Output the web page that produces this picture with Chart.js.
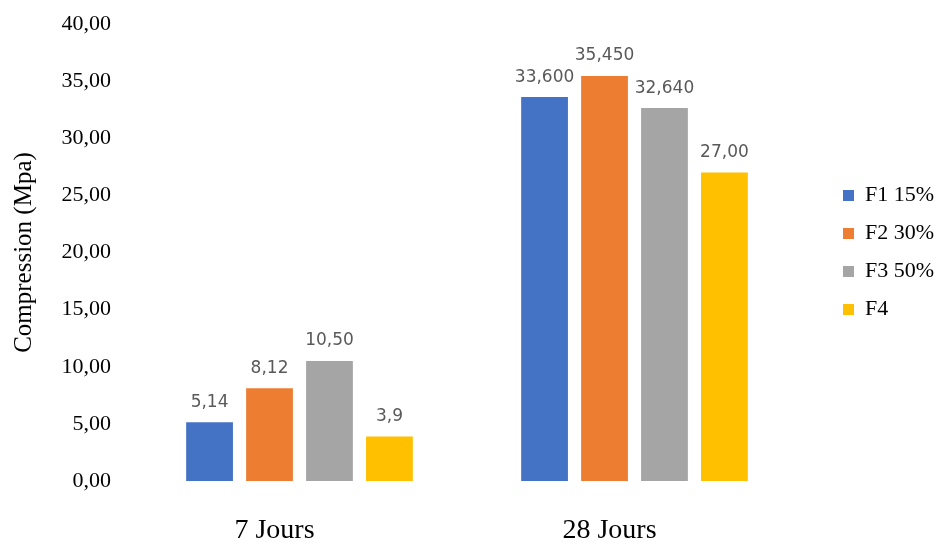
<!DOCTYPE html>
<html>
<head>
<meta charset="utf-8">
<script src="https://cdn.jsdelivr.net/npm/chart.js@4"></script>
<style>
  html, body { margin: 0; padding: 0; background: #fff; }
  #wrap { width: 941px; height: 547px; position: relative; }
</style>
</head>
<body>
<div id="wrap"><canvas id="chart"></canvas></div>
<script>
// DATA
const categories = ["7 Jours", "28 Jours"];
const seriesNames = ["F1 15%", "F2 30%", "F3 50%", "F4"];
const f1Values = [5.14, 33.6];
const f2Values = [8.12, 35.45];
const f3Values = [10.5, 32.64];
const f4Values = [3.9, 27.0];
// value labels exactly as printed above the bars
const f1Labels = ["5,14", "33,600"];
const f2Labels = ["8,12", "35,450"];
const f3Labels = ["10,50", "32,640"];
const f4Labels = ["3,9", "27,00"];
const yTickLabels = ["0,00", "5,00", "10,00", "15,00", "20,00", "25,00", "30,00", "35,00", "40,00"];

const colors = ["#4472C4", "#ED7D31", "#A5A5A5", "#FFC000"];
const serif = "'Liberation Serif', 'Times New Roman', serif";

// draws the value above each bar
const valueLabels = {
    id: "valueLabels",
    afterDatasetsDraw(chart) {
        const ctx = chart.ctx;
        ctx.save();
        ctx.font = "17px 'DejaVu Sans', sans-serif";
        ctx.fillStyle = "#595959";
        ctx.textAlign = "center";
        ctx.textBaseline = "middle";
        chart.data.datasets.forEach((ds, i) => {
            chart.getDatasetMeta(i).data.forEach((bar, j) => {
                ctx.fillText(ds.valueLabels[j], bar.x, bar.y - 20);
            });
        });
        ctx.restore();
    },
};

// keeps the legend column narrow, a bit away from the bars, centred on the plot
const legendSpot = {
    id: "legendSpot",
    beforeLayout(chart) {
        const lg = chart.legend;
        if (lg && !lg._fixed) {
            const fit = lg.fit;
            lg.fit = function () {
                fit.call(this);
                this.width = 139;
            };
            lg._fixed = true;
        }
    },
    afterLayout(chart) {
        const lg = chart.legend;
        lg.left += 25;
        lg.right += 25;
        lg.top = 24;
        lg.bottom = 481;
        lg.height = lg.bottom - lg.top;
    },
};

const data = {
    labels: categories,
    datasets: [
        { label: seriesNames[0], data: f1Values, valueLabels: f1Labels, backgroundColor: colors[0] },
        { label: seriesNames[1], data: f2Values, valueLabels: f2Labels, backgroundColor: colors[1] },
        { label: seriesNames[2], data: f3Values, valueLabels: f3Labels, backgroundColor: colors[2] },
        { label: seriesNames[3], data: f4Values, valueLabels: f4Labels, backgroundColor: colors[3] },
    ],
};

const config = {
    type: "bar",
    data: data,
    options: {
        responsive: true,
        maintainAspectRatio: false,
        animation: false,
        layout: { padding: { top: 24, right: 0, bottom: 0, left: 0 } },
        datasets: {
            bar: { categoryPercentage: 0.716, barPercentage: 0.78, borderWidth: 0 },
        },
        scales: {
            x: {
                grid: { display: false, drawTicks: false },
                border: { display: false },
                ticks: { color: "#000", padding: 33, labelOffset: -25, font: { family: serif, size: 28 } },
                afterFit(scale) { scale.height = 66; },
            },
            y: {
                min: 0,
                max: 40,
                grid: { display: false, drawTicks: false },
                border: { display: false },
                ticks: {
                    stepSize: 5,
                    color: "#000",
                    padding: 21,
                    font: { family: serif, size: 22 },
                    callback: (v) => yTickLabels[Math.round(v / 5)],
                },
                title: {
                    display: true,
                    text: "Compression (Mpa)",
                    color: "#000",
                    padding: { top: 9, bottom: 0 },
                    font: { family: serif, size: 25 },
                },
                afterFit(scale) {
                    scale.width = 132;
                    scale.paddingTop = 0;
                    scale.paddingBottom = 0;
                },
            },
        },
        plugins: {
            legend: {
                position: "right",
                labels: {
                    boxWidth: 11,
                    boxHeight: 11,
                    padding: 16,
                    color: "#000",
                    font: { family: serif, size: 22 },
                },
            },
            tooltip: { enabled: false },
        },
    },
    plugins: [valueLabels, legendSpot],
};

const myChart = new Chart(document.getElementById("chart"), config);
</script>
</body>
</html>
